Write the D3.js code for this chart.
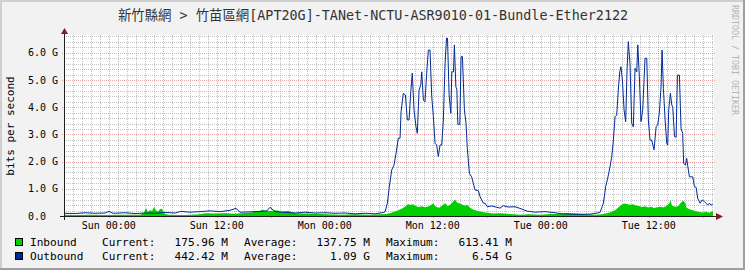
<!DOCTYPE html>
<html>
<head>
<meta charset="utf-8">
<script src="https://cdn.jsdelivr.net/npm/d3@7/dist/d3.min.js"></script>
<style>
  body { margin: 0; background: #f2f2f2; }
  text { font-family: "DejaVu Sans Mono", "Noto Sans CJK TC", monospace; white-space: pre; }
</style>
</head>
<body>
<script>
// Traffic values in Gbit/s, time as hours after Sun 00:00
const outHours = [-4.97,-3.74,-2.63,-1.52,-0.41,0.03,0.48,1.81,2.92,4.03,5.14,6.26,7.37,8.03,9.03,10.14,11.26,12.37,13.48,14.14,14.59,15.7,16.81,17.59,17.92,18.48,19.59,20.7,21.81,22.92,24.03,25.14,26.26,27.37,28.48,29.59,30.37,30.7,30.96,31.18,31.44,31.7,31.92,32.18,32.37,32.48,32.73,32.96,33.18,33.37,33.56,33.73,33.92,34.14,34.29,34.48,34.67,34.78,34.96,35.14,35.33,35.51,35.7,35.89,36.07,36.26,36.44,36.62,36.81,37.0,37.18,37.37,37.53,37.64,37.82,38.01,38.12,38.3,38.41,38.57,38.68,38.79,39.01,39.15,39.3,39.52,39.7,39.84,40.07,40.33,40.51,40.7,41.07,41.26,41.44,41.62,41.81,42.07,42.56,43.11,43.48,43.84,44.37,45.14,45.7,46.48,47.37,48.48,49.59,50.37,51.26,52.37,53.48,54.26,54.59,54.96,55.22,55.44,55.7,55.89,56.07,56.26,56.44,56.62,56.78,56.92,57.07,57.26,57.44,57.59,57.73,57.92,58.11,58.29,58.48,58.67,58.78,58.96,59.14,59.33,59.59,59.78,59.96,60.14,60.33,60.59,60.82,61.0,61.19,61.37,61.48,61.63,61.82,62.0,62.11,62.22,62.41,62.56,62.67,62.86,63.04,63.19,63.41,63.59,63.77,63.88,64.07,64.22,64.33,64.52,64.89,65.08,65.27,65.44,65.71,65.93,66.19,66.37,66.56,66.74,66.93,67.11];
const outValues = [0.10,0.09,0.12,0.10,0.11,0.17,0.10,0.12,0.09,0.11,0.10,0.13,0.11,0.17,0.14,0.16,0.19,0.16,0.21,0.28,0.14,0.15,0.17,0.19,0.32,0.16,0.13,0.11,0.14,0.11,0.12,0.10,0.11,0.08,0.10,0.08,0.12,0.15,0.47,1.08,1.69,1.87,2.30,2.86,2.86,3.83,4.51,4.45,3.53,3.53,4.57,5.25,3.90,3.28,3.04,4.63,4.82,5.30,4.26,4.20,5.25,6.10,6.10,4.39,3.65,2.67,2.61,2.18,2.61,2.61,3.53,5.60,6.54,6.54,4.45,3.78,5.30,5.30,6.29,4.75,4.65,3.37,3.37,5.86,5.86,3.90,3.41,2.49,1.57,1.44,1.20,0.96,0.93,0.71,0.59,0.47,0.47,0.34,0.37,0.32,0.29,0.38,0.33,0.34,0.28,0.18,0.14,0.16,0.12,0.08,0.07,0.06,0.07,0.11,0.13,0.47,1.08,1.39,1.81,2.18,2.79,3.65,3.71,4.63,5.30,5.49,5.00,3.90,3.47,5.37,6.41,5.61,3.41,3.28,5.43,5.30,6.29,5.12,3.47,3.90,5.80,5.80,3.53,2.79,2.79,2.43,3.28,3.35,3.83,4.75,6.10,4.69,3.53,2.67,2.61,3.90,4.51,4.08,4.00,2.92,2.90,5.18,5.18,3.22,3.04,1.94,1.87,2.12,1.85,1.44,1.44,1.08,1.05,0.65,0.47,0.59,0.53,0.47,0.40,0.47,0.40,0.44];

const inHours = [-4.97,-3.74,-2.08,-0.41,1.26,3.48,3.92,4.14,4.37,4.59,4.81,5.03,5.26,5.48,5.7,5.92,6.14,6.59,8.48,10.14,10.7,11.81,12.92,14.03,15.14,15.92,16.37,16.7,17.03,17.37,17.92,18.59,19.26,19.92,20.37,20.81,21.81,22.92,24.26,25.7,27.37,29.03,30.14,30.81,31.26,31.7,32.14,32.59,32.92,33.26,33.48,33.81,34.14,34.48,34.81,35.14,35.48,35.81,36.03,36.37,36.7,37.03,37.37,37.7,38.03,38.26,38.48,38.7,38.92,39.26,39.59,39.81,40.14,40.48,40.81,41.26,41.7,42.14,42.7,43.48,44.59,45.7,46.81,47.92,49.03,50.14,51.03,51.81,52.92,54.03,54.81,55.37,55.81,56.26,56.59,56.92,57.26,57.59,57.92,58.26,58.59,58.92,59.26,59.59,59.92,60.26,60.59,60.92,61.26,61.59,61.92,62.26,62.42,62.59,62.92,63.26,63.59,63.81,64.03,64.2,64.48,64.81,65.14,65.59,66.03,66.37,66.7,67.14];
const inValues = [0.05,0.04,0.05,0.04,0.05,0.05,0.12,0.29,0.15,0.22,0.18,0.33,0.20,0.17,0.26,0.27,0.10,0.05,0.04,0.06,0.10,0.09,0.10,0.08,0.11,0.13,0.19,0.16,0.23,0.19,0.18,0.21,0.17,0.19,0.14,0.10,0.09,0.08,0.06,0.05,0.06,0.05,0.06,0.07,0.10,0.16,0.20,0.28,0.34,0.44,0.40,0.43,0.36,0.33,0.36,0.32,0.35,0.40,0.46,0.34,0.30,0.38,0.47,0.36,0.44,0.52,0.61,0.50,0.47,0.42,0.38,0.41,0.30,0.24,0.20,0.17,0.14,0.12,0.09,0.10,0.07,0.05,0.06,0.05,0.07,0.08,0.11,0.09,0.07,0.05,0.06,0.10,0.15,0.21,0.30,0.40,0.46,0.44,0.41,0.43,0.39,0.37,0.33,0.36,0.31,0.34,0.29,0.32,0.34,0.31,0.36,0.45,0.58,0.38,0.34,0.36,0.50,0.56,0.50,0.30,0.26,0.22,0.18,0.15,0.13,0.16,0.12,0.18];

const yTicks = [0, 1, 2, 3, 4, 5, 6];
const yTickLabels = ["0.0", "1.0 G", "2.0 G", "3.0 G", "4.0 G", "5.0 G", "6.0 G"];
const xTicks = [0, 12, 24, 36, 48, 60];
const xTickLabels = ["Sun 00:00", "Sun 12:00", "Mon 00:00", "Mon 12:00", "Tue 00:00", "Tue 12:00"];

const seriesNames = ["Inbound", "Outbound"];
const seriesColors = ["#00cf00", "#002a97"];
const curLabels = ["175.96 M", "442.42 M"];
const avgLabels = ["137.75 M", "1.09 G"];
const maxLabels = ["613.41 M", "6.54 G"];

const W = 745, H = 270;
const x0 = 64, x1 = 714, y0 = 216, y1 = 35;

const svg = d3.select("body").append("svg")
  .attr("width", W).attr("height", H);

// background + 3d frame
svg.append("rect").attr("width", W).attr("height", H).attr("fill", "#f2f2f2");
svg.append("rect").attr("x", 0).attr("y", 0).attr("width", W).attr("height", 2).attr("fill", "#cfcfcf");
svg.append("rect").attr("x", 0).attr("y", 0).attr("width", 2).attr("height", H).attr("fill", "#cfcfcf");
svg.append("rect").attr("x", 0).attr("y", H - 2).attr("width", W).attr("height", 2).attr("fill", "#9e9e9e");
svg.append("rect").attr("x", W - 2).attr("y", 0).attr("width", 2).attr("height", H).attr("fill", "#9e9e9e");

// scales
const x = d3.scaleLinear().domain([-4.97, -4.97 + (x1 - x0) / 9]).range([x0, x1]);
const y = d3.scaleLinear().domain([0, (y0 - y1) / 27.2]).range([y0, y1]);

svg.append("rect").attr("x", x0).attr("y", y1).attr("width", x1 - x0).attr("height", y0 - y1).attr("fill", "#fff");

const grid = svg.append("g").attr("shape-rendering", "crispEdges");

// minor grid
const minorH = d3.range(0.2, y.domain()[1], 0.2).filter(v => Math.abs(v - Math.round(v)) > 0.01);
grid.selectAll(".mh").data(minorH).join("line")
  .attr("x1", x0).attr("x2", x1)
  .attr("y1", d => Math.round(y(d)) + 0.5).attr("y2", d => Math.round(y(d)) + 0.5)
  .attr("stroke", "rgba(143,143,143,0.55)").attr("stroke-dasharray", "1,1");
const minorV = d3.range(-4, 68, 1).filter(h => h % 6 !== 0);
grid.selectAll(".mv").data(minorV).join("line")
  .attr("y1", y1).attr("y2", y0)
  .attr("x1", d => Math.round(x(d)) + 0.5).attr("x2", d => Math.round(x(d)) + 0.5)
  .attr("stroke", "rgba(143,143,143,0.55)").attr("stroke-dasharray", "1,1");

// major grid
grid.selectAll(".Mh").data(yTicks.slice(1)).join("line")
  .attr("x1", x0 - 2).attr("x2", x1 + 2)
  .attr("y1", d => Math.round(y(d)) + 0.5).attr("y2", d => Math.round(y(d)) + 0.5)
  .attr("stroke", "rgba(222,79,79,0.5)").attr("stroke-dasharray", "1,1");
const majorV = d3.range(0, 68, 6);
grid.selectAll(".Mv").data(majorV).join("line")
  .attr("y1", y1).attr("y2", y0 + 2)
  .attr("x1", d => Math.round(x(d)) + 0.5).attr("x2", d => Math.round(x(d)) + 0.5)
  .attr("stroke", "rgba(222,79,79,0.5)").attr("stroke-dasharray", "1,1");

// data
svg.append("clipPath").attr("id", "clip")
  .append("rect").attr("x", x0).attr("y", y1 - 2).attr("width", x1 - x0).attr("height", y0 - y1 + 2);
const plot = svg.append("g").attr("clip-path", "url(#clip)");

const inData = inHours.map((h, i) => [h, inValues[i]]);
const outData = outHours.map((h, i) => [h, outValues[i]]);

plot.append("path").datum(inData)
  .attr("fill", seriesColors[0])
  .attr("d", d3.area().x(d => x(d[0])).y0(y0).y1(d => y(d[1])));

plot.append("path").datum(outData)
  .attr("fill", "none").attr("stroke", seriesColors[1]).attr("stroke-width", 1)
  .attr("d", d3.line().x(d => x(d[0])).y(d => y(d[1])));

// axes
const axis = svg.append("g").attr("shape-rendering", "crispEdges");
axis.append("line").attr("x1", x0 - 4).attr("x2", x1 + 2).attr("y1", y0 + 0.5).attr("y2", y0 + 0.5).attr("stroke", "#1f1f1f");
axis.append("line").attr("x1", x0 + 0.5).attr("x2", x0 + 0.5).attr("y1", y0 + 4).attr("y2", y1 - 1).attr("stroke", "#1f1f1f");
svg.append("path").attr("fill", "#801f1f")
  .attr("d", `M${x1 + 2},${y0 - 3} L${x1 + 9},${y0 + 0.5} L${x1 + 2},${y0 + 4} Z`);
svg.append("path").attr("fill", "#801f1f")
  .attr("d", `M${x0 - 3},${y1 - 1} L${x0 + 0.5},${y1 - 7} L${x0 + 4},${y1 - 1} Z`);

// tick labels
svg.selectAll(".yl").data(yTicks).join("text")
  .attr("x", 28).attr("y", d => y(d) + 3.6)
  .attr("font-size", "10px").attr("fill", "#000")
  .text((d, i) => yTickLabels[i]);

svg.selectAll(".xl").data(xTicks).join("text")
  .attr("x", d => x(d)).attr("y", 229)
  .attr("text-anchor", "middle").attr("font-size", "10px").attr("fill", "#000")
  .text((d, i) => xTickLabels[i]);

// titles
svg.append("text").attr("x", 373).attr("y", 20).attr("text-anchor", "middle")
  .attr("font-size", "13.4px").attr("fill", "#333")
  .text("新竹縣網 > 竹苗區網[APT20G]-TANet-NCTU-ASR9010-01-Bundle-Ether2122");

svg.append("text").attr("transform", "translate(14,126) rotate(-90)")
  .attr("text-anchor", "middle").attr("font-size", "11px").attr("fill", "#000")
  .text("bits per second");

svg.append("text").attr("transform", "translate(732,5) rotate(90)")
  .attr("font-size", "8.3px").attr("fill", "#b5b5b5")
  .text("RRDTOOL / TOBI OETIKER");

// legend
const leg = svg.selectAll(".leg").data(seriesNames).join("g")
  .attr("transform", (d, i) => `translate(0,${246 + i * 13.5})`);
leg.append("rect").attr("x", 15.5).attr("y", -7.5).attr("width", 7).attr("height", 7)
  .attr("fill", (d, i) => seriesColors[i]).attr("stroke", "#000").attr("shape-rendering", "crispEdges");
const lt = (sel, xx, anchor, f) => sel.append("text").attr("x", xx).attr("text-anchor", anchor)
  .attr("font-size", "11.1px").attr("fill", "#000").text(f);
lt(leg, 30, "start", d => d);
lt(leg, 102, "start", () => "Current:");
lt(leg, 228, "end", (d, i) => curLabels[i]);
lt(leg, 244, "start", () => "Average:");
lt(leg, 370, "end", (d, i) => avgLabels[i]);
lt(leg, 386, "start", () => "Maximum:");
lt(leg, 512, "end", (d, i) => maxLabels[i]);
</script>
</body>
</html>
